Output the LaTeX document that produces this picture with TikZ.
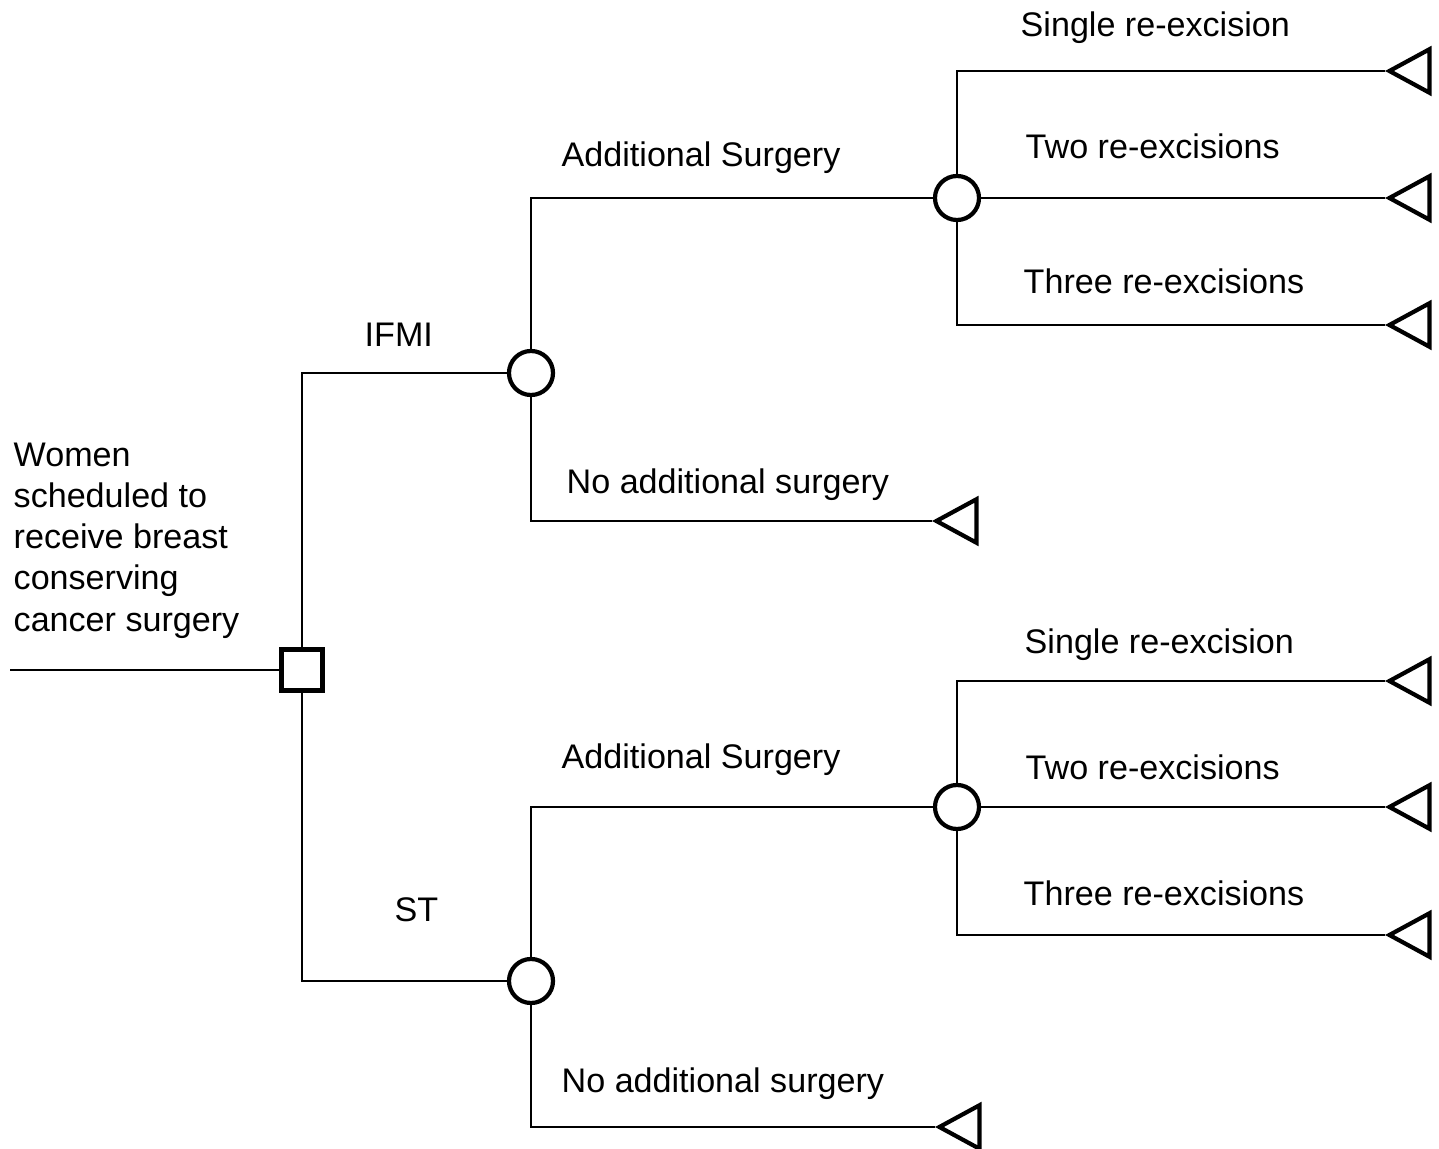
\documentclass[tikz,border=0pt]{standalone}
\usepackage{fontspec}
\setmainfont{Liberation Sans}
\usetikzlibrary{
  shapes.geometric,
  positioning
}
\tikzset{
  decision/.style={
    rectangle, draw, line width=1.3pt, fill=white,
    minimum size=0.41cm, inner sep=0pt
  },
  chance/.style={
    circle, draw, line width=1.2pt, fill=white,
    minimum size=0.44cm, inner sep=0pt
  },
  leaf/.style={
    isosceles triangle, isosceles triangle apex angle=57,
    shape border rotate=180, draw, line width=1.2pt, fill=white,
    inner sep=0pt, minimum height=0.40cm, anchor=apex
  },
  branch/.style={
    line width=0.55pt
  },
  lbl/.style={
    anchor=base west, inner sep=0pt,
    font=\fontsize{9.7}{11.66}\selectfont
  },
}

\begin{document}
\begin{tikzpicture}[x=0.01cm, y=-0.01cm]

  \useasboundingbox (0,0) rectangle (1439,1149);

  %% ── Root ──────────────────────────────────────────────────────────────────
  \coordinate (start) at (10,670);
  \node[decision] (dec) at (302,670) {};
  \node[lbl, align=left] (women) at (13,631)
    {Women\\scheduled to\\receive breast\\conserving\\cancer surgery};

  %% ── IFMI arm ──────────────────────────────────────────────────────────────
  \node[chance] (ifmi)    at (531,373) {};
  \node[chance] (ifmiadd) at (957,198) {};
  \node[leaf]   (ifmino)  at (932,521) {};
  \node[leaf]   (ifmione) at (1385,71)  {};
  \node[leaf]   (ifmitwo) at (1385,198) {};
  \node[leaf]   (ifmithr) at (1385,325) {};

  \node[lbl] (lifmi)    at (364,347)  {IFMI};
  \node[lbl] (lifmiadd) at (561,167)  {Additional Surgery};
  \node[lbl] (lifmino)  at (566,494)  {No additional surgery};
  \node[lbl] (lifmione) at (1020,37)  {Single re-excision};
  \node[lbl] (lifmitwo) at (1025,159) {Two re-excisions};
  \node[lbl] (lifmithr) at (1023,294) {Three re-excisions};

  %% ── ST arm ────────────────────────────────────────────────────────────────
  \node[chance] (st)    at (531,981) {};
  \node[chance] (stadd) at (957,807) {};
  \node[leaf]   (stno)  at (935,1127) {};
  \node[leaf]   (stone) at (1385,681) {};
  \node[leaf]   (sttwo) at (1385,807) {};
  \node[leaf]   (stthr) at (1385,935) {};

  \node[lbl] (lst)    at (394,921)  {ST};
  \node[lbl] (lstadd) at (561,768)  {Additional Surgery};
  \node[lbl] (lstno)  at (561,1092) {No additional surgery};
  \node[lbl] (lstone) at (1024,653) {Single re-excision};
  \node[lbl] (lsttwo) at (1025,779) {Two re-excisions};
  \node[lbl] (lstthr) at (1023,905) {Three re-excisions};

  %% ── Branches ──────────────────────────────────────────────────────────────
  \draw[branch] (start) -- (dec);
  \draw[branch] (dec) |- (ifmi);
  \draw[branch] (dec) |- (st);

  \draw[branch] (ifmi) |- (ifmiadd);
  \draw[branch] (ifmi) |- (ifmino);
  \draw[branch] (ifmiadd) |- (ifmione);
  \draw[branch] (ifmiadd) -- (ifmitwo);
  \draw[branch] (ifmiadd) |- (ifmithr);

  \draw[branch] (st) |- (stadd);
  \draw[branch] (st) |- (stno);
  \draw[branch] (stadd) |- (stone);
  \draw[branch] (stadd) -- (sttwo);
  \draw[branch] (stadd) |- (stthr);

\end{tikzpicture}
\end{document}
